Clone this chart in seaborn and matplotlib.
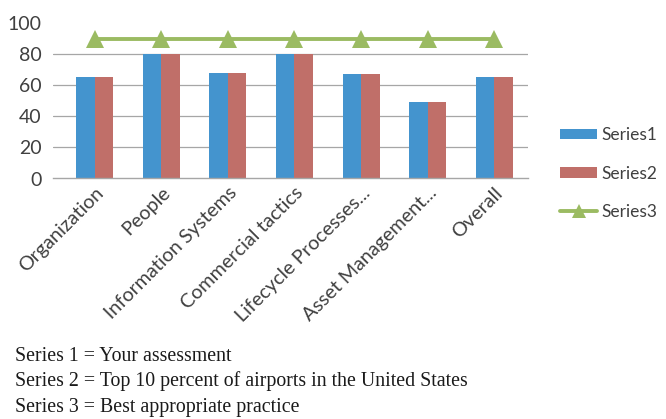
import matplotlib
matplotlib.use("Agg")
import matplotlib.pyplot as plt
import matplotlib.transforms as mtransforms
import seaborn as sns
import pandas as pd
import numpy as np
from matplotlib.patches import Patch
from matplotlib.lines import Line2D

categories = ["Organization", "People", "Information Systems", "Commercial tactics",
              "Lifecycle Processes...", "Asset Management...", "Overall"]
series1 = [65, 80, 68, 80, 67, 49, 65]
series2 = [65, 80, 68, 80, 67, 49, 65]
series3 = [90, 90, 90, 90, 90, 90, 90]
y_ticks = [0, 20, 40, 60, 80, 100]
notes = ["Series 1 = Your assessment",
         "Series 2 = Top 10 percent of airports in the United States",
         "Series 3 = Best appropriate practice"]

blue = "#4494CE"
red = "#C06F69"
green = "#9BBB62"
grid_gray = "#A6A6A6"
text_gray = "#404040"

sns.set_theme(style="white")
plt.rcParams["font.family"] = ["Lato", "DejaVu Sans"]

W, H = 666, 419
fig = plt.figure(figsize=(W / 100, H / 100), dpi=100)
ax_l, ax_r, ax_t, ax_b = 53, 528, 23, 178.5
ax = fig.add_axes([ax_l / W, 1 - ax_b / H, (ax_r - ax_l) / W, (ax_b - ax_t) / H])

df = pd.DataFrame({
    "category": categories * 2,
    "value": series1 + series2,
    "series": ["Series1"] * len(categories) + ["Series2"] * len(categories),
})
sns.barplot(data=df, x="category", y="value", hue="series", order=categories,
            palette=[blue, red], width=0.556, saturation=1, ax=ax,
            edgecolor="none", legend=False)

x = np.arange(len(categories))
sns.lineplot(x=x, y=series3, ax=ax, color=green, linewidth=2.8, marker="^",
             markersize=13, markeredgewidth=0, legend=False)

ax.set_xlim(-0.63, 6.51)
ax.set_ylim(0, 100)
ax.set_xlabel("")
ax.set_ylabel("")
for y in [20, 40, 60, 80]:
    ax.axhline(y, color=grid_gray, linewidth=0.9, zorder=0)
for s in ["top", "right", "left"]:
    ax.spines[s].set_visible(False)
ax.spines["bottom"].set_color(grid_gray)
ax.spines["bottom"].set_linewidth(1.0)

ax.set_yticks(y_ticks)
ax.set_yticklabels([str(v) for v in y_ticks], fontsize=14, color=text_gray)
ax.tick_params(axis="y", length=0, pad=8)

# category boundary ticks on the x axis
ax.set_xticks(np.arange(0.5, 7, 1.0), minor=True)
ax.tick_params(axis="x", which="minor", length=5, width=1, color=grid_gray, direction="out")
ax.set_xticks(x)
ax.set_xticklabels(categories, rotation=45, ha="right", rotation_mode="anchor",
                   fontsize=14.2, color=text_gray)
ax.tick_params(axis="x", which="major", length=0, pad=4)

# legend
handles = [Patch(facecolor=blue, edgecolor="none"),
           Patch(facecolor=red, edgecolor="none"),
           Line2D([0], [0], color=green, linewidth=2.8, marker="^", markersize=10,
                  markeredgewidth=0)]
fig.legend(handles, ["Series1", "Series2", "Series3"], loc="upper left",
           bbox_to_anchor=(560 / W, 1 - 127 / H), frameon=False, fontsize=12.5,
           borderpad=0, borderaxespad=0,
           handlelength=2.15, handleheight=0.55, handletextpad=0.25,
           labelspacing=1.3, labelcolor=text_gray)

for i, line in enumerate(notes):
    fig.text(15 / W, 1 - (356 + i * 25.5) / H, line, fontsize=14.3,
             family=["Liberation Serif", "DejaVu Serif"], color="#1a1a1a",
             ha="left", va="center")

fig.savefig("out.png", dpi=100, facecolor="white")
